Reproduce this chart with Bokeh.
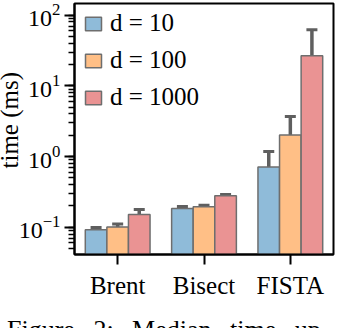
from bokeh.plotting import figure
from bokeh.models import (ColumnDataSource, Whisker, TeeHead, Legend, LegendItem,
                          Range1d, LogTicker, Div, Title)
from bokeh.layouts import column
from bokeh.transform import dodge
from bokeh.embed import file_html
from bokeh.resources import INLINE

# ---- data ----
methods = ["Brent", "Bisect", "FISTA"]
series_labels = ["d = 10", "d = 100", "d = 1000"]
d10 = [0.092, 0.184, 0.71]
d10_lo = [0.089, 0.175, 0.46]
d10_hi = [0.099, 0.196, 1.18]
d100 = [0.101, 0.194, 2.01]
d100_lo = [0.097, 0.184, 1.42]
d100_hi = [0.111, 0.205, 3.68]
d1000 = [0.151, 0.278, 26.6]
d1000_lo = [0.145, 0.260, 10.3]
d1000_hi = [0.178, 0.290, 62.0]
y_min, y_max = 0.0411, 146.0
y_label = "time (ms)"
caption = "Figure 2: Median time up"

colors = ["#8fbbd9", "#ffbf86", "#ea9393"]
edge = "#6e6e6e"
err_color = "#5f5f5f"
FONT = "Liberation Serif"

src = ColumnDataSource(dict(
    method=methods,
    d10=d10, d10_lo=d10_lo, d10_hi=d10_hi,
    d100=d100, d100_lo=d100_lo, d100_hi=d100_hi,
    d1000=d1000, d1000_lo=d1000_lo, d1000_hi=d1000_hi,
))

p = figure(width=338, height=312, x_range=methods, y_axis_type="log",
           y_range=Range1d(y_min, y_max), output_backend="svg",
           toolbar_location=None, min_border_left=74, min_border_right=5,
           min_border_top=3, min_border_bottom=58)

keys = ["d10", "d100", "d1000"]
offsets = [-0.25, 0.0, 0.25]
items = []
for k, off, c, lab in zip(keys, offsets, colors, series_labels):
    r = p.vbar(x=dodge("method", off, range=p.x_range), top=k, bottom=y_min / 10,
               width=0.25, source=src, fill_color=c, line_color=edge, line_width=1.5)
    w = Whisker(base=dodge("method", off, range=p.x_range), upper=k + "_hi",
                lower=k + "_lo", source=src, line_color=err_color, line_width=3.5,
                upper_head=TeeHead(size=11, line_color=err_color, line_width=3),
                lower_head=TeeHead(size=11, line_color=err_color, line_width=3))
    p.add_layout(w)
    items.append(LegendItem(label=lab, renderers=[r]))

legend = Legend(items=items, location=(-2, 132), margin=0, padding=11,
                glyph_width=20, glyph_height=17, label_standoff=7, spacing=9,
                label_text_font=FONT, label_text_font_size="25px",
                label_text_color="black",
                border_line_alpha=0, background_fill_alpha=0)
p.add_layout(legend)

p.xgrid.visible = False
p.ygrid.visible = False
p.outline_line_color = "black"
p.outline_line_width = 2
p.outline_line_alpha = 1

p.yaxis.ticker = LogTicker(num_minor_ticks=10)
for ax in (p.xaxis, p.yaxis):
    ax.axis_line_width = 2
    ax.axis_line_color = "black"
    ax.major_tick_line_width = 2
    ax.major_tick_out = 10
    ax.major_tick_in = 0
    ax.minor_tick_line_width = 1.5
    ax.minor_tick_out = 6
    ax.minor_tick_in = 0
    ax.major_label_text_font = FONT
    ax.major_label_text_font_size = "24px"
    ax.major_label_text_color = "black"
p.xaxis.major_label_text_font_size = "25px"
p.xaxis.major_label_standoff = 7
p.yaxis.major_label_standoff = 4

# y-axis title as a left-side title so it can sit beside the tick labels
ytitle = Title(text=y_label, align="left", offset=86, standoff=-14,
               text_font=FONT, text_font_size="25px", text_font_style="normal",
               text_color="black")
p.add_layout(ytitle, "left")

cap = Div(text=caption, width=338, height=16,
          styles={"font-family": FONT, "font-size": "26px", "line-height": "29px",
                  "word-spacing": "12px", "color": "black", "overflow": "hidden",
                  "white-space": "nowrap", "padding-left": "7px",
                  "padding-top": "3px", "margin": "0"})

layout = column(p, cap, spacing=0)
open("out.html", "w").write(file_html(layout, INLINE))
